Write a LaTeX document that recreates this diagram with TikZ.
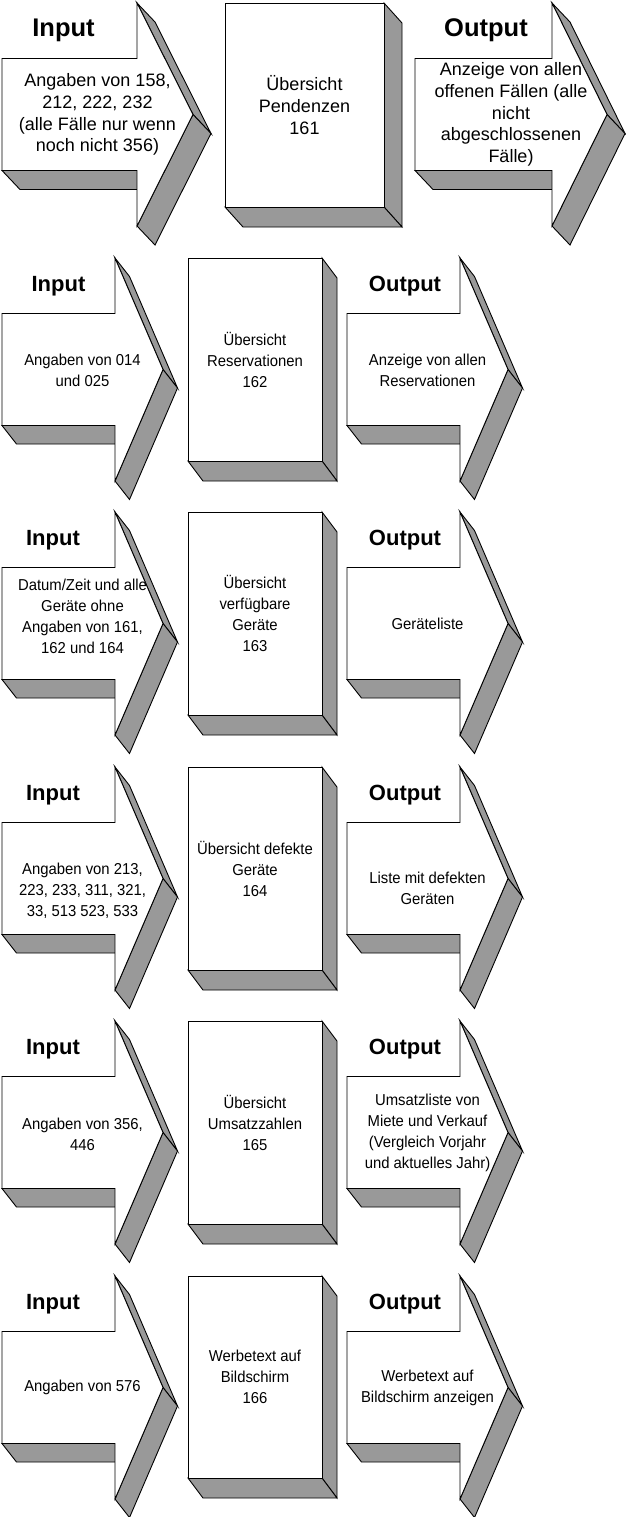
\documentclass[tikz,border=0pt]{standalone}
\usepackage{fontspec}
\setmainfont{Liberation Sans}
\newfontfamily\narrowsans[FakeStretch=0.94]{Liberation Sans}
\definecolor{shade}{RGB}{153,153,153}
\tikzset{
  sideface/.style={fill=shade, draw=black, line width=0.9pt},
  frontface/.style={fill=white, draw=black, line width=0.9pt},
  bodytext/.style={align=center, inner sep=0pt, font=\narrowsans\fontsize{15.8}{21}\selectfont},
  bodytexta/.style={align=center, inner sep=0pt, font=\fontsize{18}{21.7}\selectfont},
  titletext/.style={anchor=base, inner sep=0pt, font=\fontsize{22}{26}\selectfont\bfseries},
  titletexta/.style={anchor=base, inner sep=0pt, font=\fontsize{25.5}{30}\selectfont\bfseries},
}
% #1 shaft left, #2 head back, #3 tip, #4 top, #5 dx, #6 dy
\newcommand{\IOArrow}[6]{%
  \filldraw[sideface] (#1,#4+167.5) -- (#2,#4+167.5) -- (#2+#5,#4+167.5+#6) -- (#1+#5,#4+167.5+#6) -- cycle;
  \filldraw[sideface] (#2,#4) -- (#3,#4+111.5) -- (#3+#5,#4+111.5+#6) -- (#2+#5,#4+#6) -- cycle;
  \filldraw[sideface] (#3,#4+111.5) -- (#2,#4+223) -- (#2+#5,#4+223+#6) -- (#3+#5,#4+111.5+#6) -- cycle;
  \filldraw[frontface] (#1,#4+55.5) -- (#2,#4+55.5) -- (#2,#4) -- (#3,#4+111.5) -- (#2,#4+223) -- (#2,#4+167.5) -- (#1,#4+167.5) -- cycle;
}
% #1 left, #2 right, #3 top, #4 bottom, #5 dx, #6 dy
\newcommand{\DepthBox}[6]{%
  \filldraw[sideface] (#2,#3) -- (#2+#5,#3+#6) -- (#2+#5,#4+#6) -- (#2,#4) -- cycle;
  \filldraw[sideface] (#1,#4) -- (#2,#4) -- (#2+#5,#4+#6) -- (#1+#5,#4+#6) -- cycle;
  \filldraw[frontface] (#1,#3) rectangle (#2,#4);
}
\begin{document}
\begin{tikzpicture}[x=1pt,y=-1pt]
\useasboundingbox (0,0) rectangle (626,1517);
% ---------- Row 1 ----------
\IOArrow{2}{137}{193}{3}{18}{19}
\DepthBox{225}{384}{3}{207}{18}{20}
\IOArrow{415}{552}{607}{3}{18}{19}
\node[titletexta] (tin1) at (63.5,37) {Input};
\node[titletexta] (tout1) at (486,37) {Output};
\node[bodytexta] (in1) at (97.5,114.5) {Angaben von 158,\\212, 222, 232\\(alle Fälle nur wenn\\noch nicht 356)};
\node[bodytexta] (box1) at (304.5,105) {Übersicht\\Pendenzen\\161};
\node[bodytexta] (out1) at (511,114.5) {Anzeige von allen\\offenen Fällen (alle\\nicht\\abgeschlossenen\\Fälle)};
% ---------- Row 2 ----------
\IOArrow{2}{115}{163}{258}{14.5}{18.5}
\DepthBox{188}{322}{258}{461}{15}{20}
\IOArrow{347}{460}{508}{258}{14.5}{18.5}
\node[titletext] (tin2) at (58.5,291) {Input};
\node[titletext] (tout2) at (405,291) {Output};
\node[bodytext] (in2) at (82.5,370.5) {Angaben von 014\\und 025};
\node[bodytext] (box2) at (255,359.5) {Übersicht\\Reservationen\\162};
\node[bodytext] (out2) at (427.5,370.5) {Anzeige von allen\\Reservationen};
% ---------- Row 3 ----------
\IOArrow{2}{115}{163}{512}{14.5}{18.5}
\DepthBox{188}{322}{512}{715}{15}{20}
\IOArrow{347}{460}{508}{512}{14.5}{18.5}
\node[titletext] (tin3) at (53,545) {Input};
\node[titletext] (tout3) at (405,545) {Output};
\node[bodytext] (in3) at (82.5,616) {Datum/Zeit und alle\\Geräte ohne\\Angaben von 161,\\162 und 164};
\node[bodytext] (box3) at (255,613.5) {Übersicht\\verfügbare\\Geräte\\163};
\node[bodytext] (out3) at (427.5,623.5) {Geräteliste};
% ---------- Row 4 ----------
\IOArrow{2}{115}{163}{767}{14.5}{18.5}
\DepthBox{188}{322}{767}{970}{15}{20}
\IOArrow{347}{460}{508}{767}{14.5}{18.5}
\node[titletext] (tin4) at (53,800) {Input};
\node[titletext] (tout4) at (405,800) {Output};
\node[bodytext] (in4) at (82.5,891) {Angaben von 213,\\223, 233, 311, 321,\\33, 513 523, 533};
\node[bodytext] (box4) at (255,868.5) {Übersicht defekte\\Geräte\\164};
\node[bodytext] (out4) at (427.5,888) {Liste mit defekten\\Geräten};
% ---------- Row 5 ----------
\IOArrow{2}{115}{163}{1021}{14.5}{18.5}
\DepthBox{188}{322}{1021}{1224}{15}{20}
\IOArrow{347}{460}{508}{1021}{14.5}{18.5}
\node[titletext] (tin5) at (53,1054) {Input};
\node[titletext] (tout5) at (405,1054) {Output};
\node[bodytext] (in5) at (82.5,1134) {Angaben von 356,\\446};
\node[bodytext] (box5) at (255,1122.5) {Übersicht\\Umsatzzahlen\\165};
\node[bodytext] (out5) at (427.5,1132.5) {Umsatzliste von\\Miete und Verkauf\\(Vergleich Vorjahr\\und aktuelles Jahr)};
% ---------- Row 6 ----------
\IOArrow{2}{115}{163}{1276}{14.5}{18.5}
\DepthBox{188}{322}{1276}{1478}{15}{20}
\IOArrow{347}{460}{508}{1276}{14.5}{18.5}
\node[titletext] (tin6) at (53,1309) {Input};
\node[titletext] (tout6) at (405,1309) {Output};
\node[bodytext] (in6) at (82.5,1387.5) {Angaben von 576};
\node[bodytext] (box6) at (255,1377) {Werbetext auf\\Bildschirm\\166};
\node[bodytext] (out6) at (427.5,1387.5) {Werbetext auf\\Bildschirm anzeigen};
\end{tikzpicture}
\end{document}
